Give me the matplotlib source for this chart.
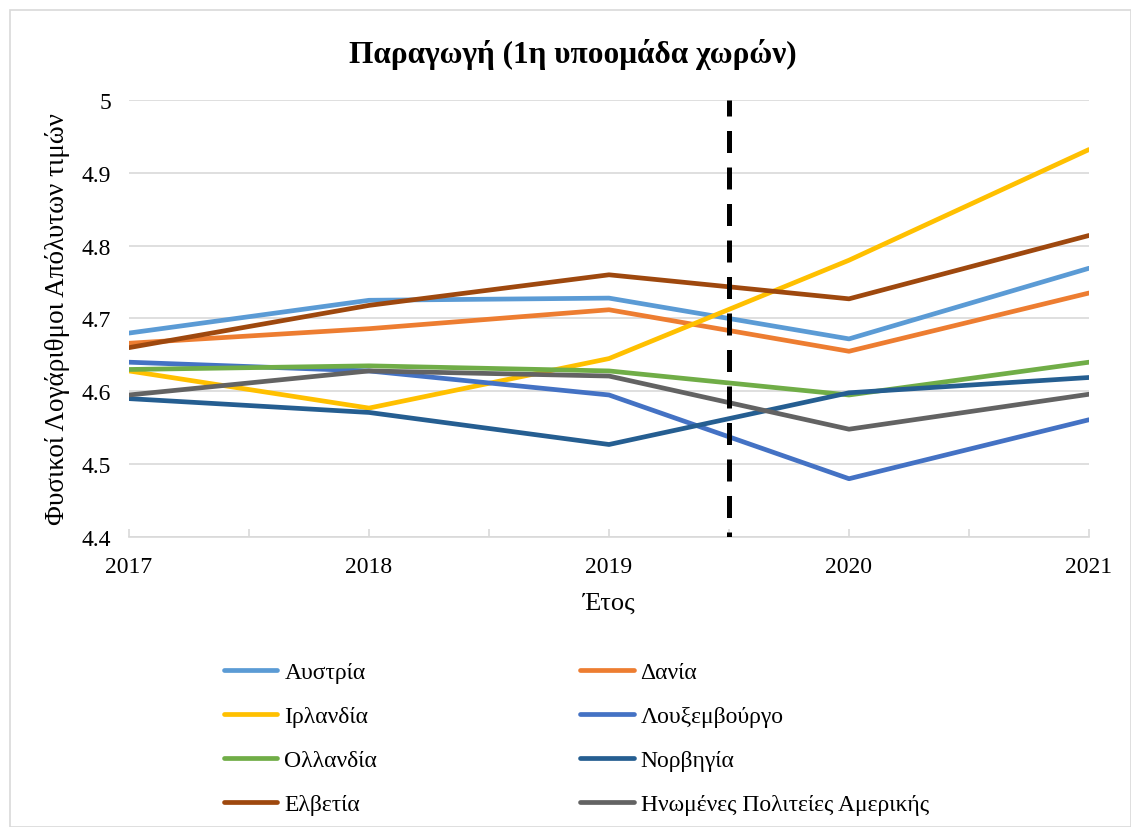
import matplotlib.pyplot as plt
from matplotlib.patches import Rectangle

plt.rcParams['font.family'] = ['Liberation Serif', 'DejaVu Serif']

years = [2017, 2018, 2019, 2020, 2021]

austria = [4.680, 4.725, 4.728, 4.672, 4.769]
denmark = [4.666, 4.686, 4.712, 4.655, 4.735]
ireland = [4.628, 4.577, 4.645, 4.780, 4.932]
luxembourg = [4.640, 4.628, 4.595, 4.480, 4.561]
netherlands = [4.630, 4.635, 4.628, 4.595, 4.640]
norway = [4.590, 4.571, 4.527, 4.598, 4.619]
switzerland = [4.660, 4.718, 4.760, 4.727, 4.814]
usa = [4.595, 4.628, 4.621, 4.548, 4.596]

names = ['Αυστρία', 'Δανία', 'Ιρλανδία', 'Λουξεμβούργο',
         'Ολλανδία', 'Νορβηγία', 'Ελβετία', 'Ηνωμένες Πολιτείες Αμερικής']
series = [austria, denmark, ireland, luxembourg,
          netherlands, norway, switzerland, usa]
colors = ['#5B9BD5', '#ED7D31', '#FFC000', '#4472C4',
          '#70AD47', '#255E91', '#9E480E', '#636363']

split_year = 2019.5

fig = plt.figure(figsize=(11.31, 8.28), dpi=100)
ax = fig.add_axes([129 / 1131, 1 - 538 / 828, 960 / 1131, 437 / 828])

# chart border
fig.patches.append(Rectangle((10 / 1131, 0), 1 - 10 / 1131, 1 - 11 / 828,
                             transform=fig.transFigure, fill=False,
                             edgecolor='#d9d9d9', linewidth=1.2))

handles = []
for vals, name, c in zip(series, names, colors):
    h, = ax.plot(years, vals, color=c, linewidth=3.4, label=name,
                 solid_capstyle='round', solid_joinstyle='round')
    handles.append(h)

# dashed separator, drawn top -> bottom so the dash pattern starts at the top
ax.plot([split_year, split_year], [5.0, 4.4], color='black', linewidth=3.6,
        linestyle=(1.2, (4.4, 2.9)), zorder=5)

ax.set_xlim(2017, 2021)
ax.set_ylim(4.4, 5.0)
ax.set_yticks([4.4, 4.5, 4.6, 4.7, 4.8, 4.9, 5.0])
ax.set_yticklabels(['4.4', '4.5', '4.6', '4.7', '4.8', '4.9', '5'])
ax.set_xticks(years)
ax.set_xticks([2017.5, 2018.5, 2019.5, 2020.5], minor=True)
ax.grid(axis='y', color='#d9d9d9', linewidth=1.2)
ax.set_axisbelow(True)
for s in ['top', 'right', 'left']:
    ax.spines[s].set_visible(False)
ax.spines['bottom'].set_color('#d9d9d9')
ax.spines['bottom'].set_linewidth(1.2)
ax.tick_params(axis='y', length=0, labelsize=17, pad=13)
ax.tick_params(axis='x', which='both', direction='in', length=6,
               color='#d9d9d9', width=1.2, labelsize=17, pad=14)

fig.text(573 / 1131, 1 - 54 / 828, 'Παραγωγή (1η υποομάδα χωρών)',
         fontsize=22.5, fontweight='bold', ha='center', va='center')
ax.set_xlabel('Έτος', fontsize=19, labelpad=10)
ax.set_ylabel('Φυσικοί Λογάριθμοι Απόλυτων τιμών', fontsize=19.5, labelpad=8)

order = [0, 2, 4, 6, 1, 3, 5, 7]
fig.legend([handles[i] for i in order], [names[i] for i in order],
           ncol=2, frameon=False, fontsize=17, handlelength=2.25,
           handletextpad=0.3, labelspacing=0.96, columnspacing=8.6,
           loc='upper left', bbox_to_anchor=(203 / 1131, 1 - 641 / 828))

fig.savefig('out.png', dpi=100)
